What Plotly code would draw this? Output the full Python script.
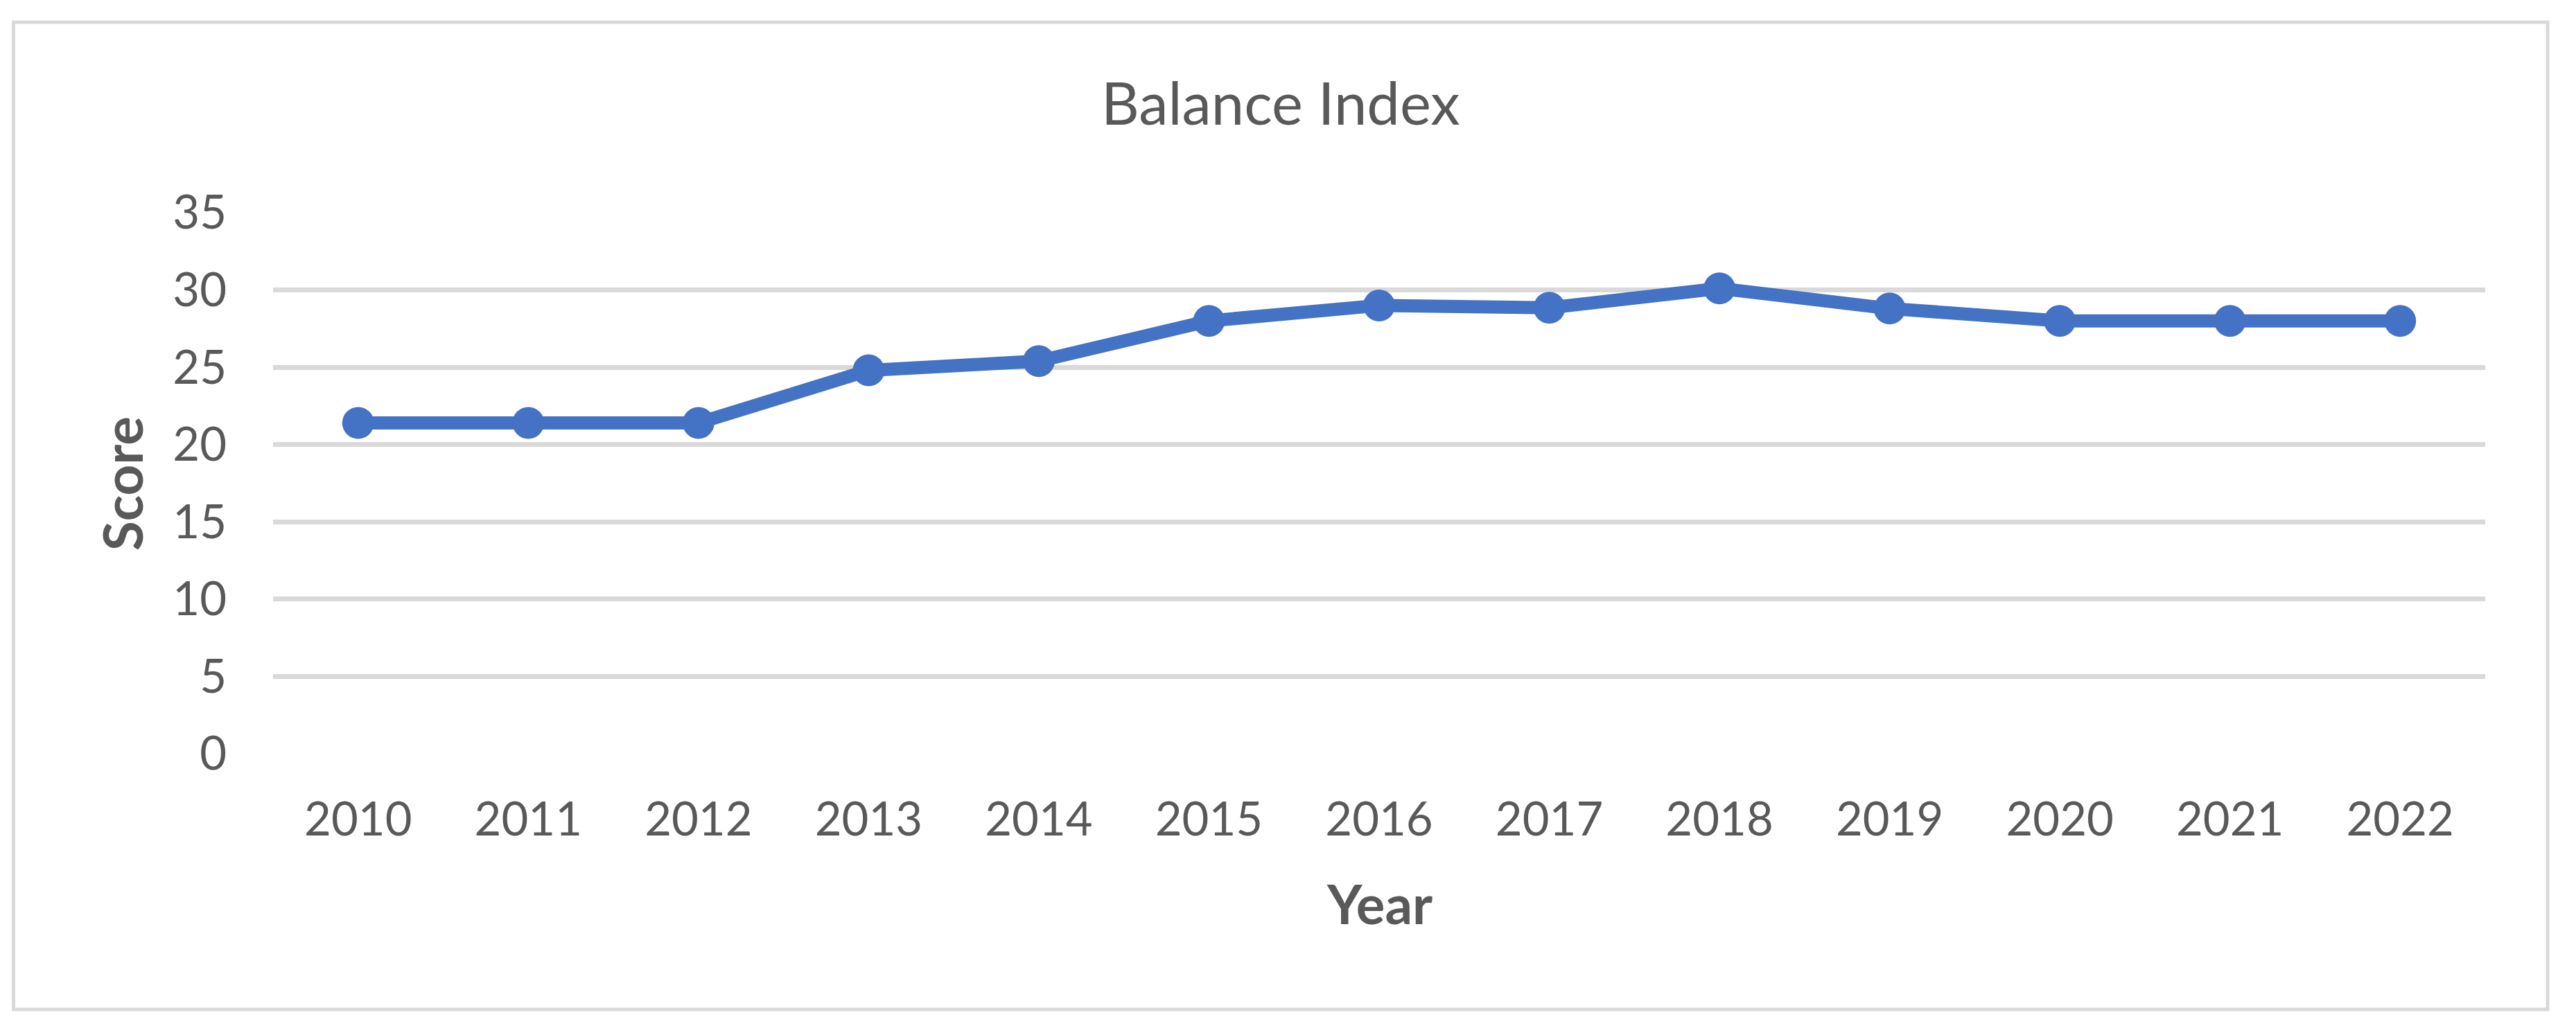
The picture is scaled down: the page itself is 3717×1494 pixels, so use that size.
import plotly.graph_objects as go

years = ["2010", "2011", "2012", "2013", "2014", "2015", "2016",
         "2017", "2018", "2019", "2020", "2021", "2022"]
scores = [21.4, 21.4, 21.4, 24.8, 25.4, 28.0, 29.0, 28.85, 30.1, 28.8, 28.0, 28.0, 28.0]
y_ticks = [0, 5, 10, 15, 20, 25, 30, 35]

title_text = "Balance Index"
x_title = "Year"
y_title = "Score"

W, H = 3717, 1494
L, R, T, B = 394, 3586, 307, 1088  # plot area in pixels

def px_x(p):
    return (p - L) / (R - L)

def px_y(p):
    return (B - p) / (B - T)

FONT = "Lato, 'Open Sans', sans-serif"
TXT = "#595959"
GRID = "#d9d9d9"
BLUE = "#4472C4"

fig = go.Figure()
fig.add_trace(go.Scatter(
    x=years, y=scores, mode="lines+markers",
    line=dict(color=BLUE, width=19),
    marker=dict(color=BLUE, size=46, line=dict(width=0)),
    showlegend=False,
))

fig.update_layout(
    width=W, height=H,
    margin=dict(l=L, r=W - R, t=T, b=H - B, pad=0),
    paper_bgcolor="white", plot_bgcolor="white",
    font=dict(family=FONT, color=TXT),
    showlegend=False,
    xaxis=dict(
        type="category", range=[-0.5, len(years) - 0.5],
        showgrid=False, zeroline=False, showline=False,
        ticks="", tickfont=dict(size=67, color=TXT, family=FONT),
        ticklabelstandoff=50,
    ),
    yaxis=dict(
        range=[0, 35], tickvals=y_ticks,
        showgrid=True, gridcolor=GRID, gridwidth=7,
        zeroline=False, showline=False,
        ticks="", tickfont=dict(size=67, color=TXT, family=FONT),
        ticklabelstandoff=66,
    ),
    shapes=[dict(
        type="rect", xref="paper", yref="paper",
        x0=px_x(19.5), x1=px_x(3676), y0=px_y(1457), y1=px_y(32),
        line=dict(color=GRID, width=5), fillcolor="rgba(0,0,0,0)", layer="below",
    )],
    annotations=[
        dict(text=title_text, xref="paper", yref="paper",
             x=px_x(1848), y=px_y(147), xanchor="center", yanchor="middle",
             showarrow=False, font=dict(size=85, color=TXT, family=FONT)),
        dict(text="<b>" + x_title + "</b>", xref="paper", yref="paper",
             x=px_x(1990), y=px_y(1304), xanchor="center", yanchor="middle",
             showarrow=False, font=dict(size=78, color=TXT, family=FONT)),
        dict(text="<b>" + y_title + "</b>", xref="paper", yref="paper",
             x=px_x(176), y=px_y(698), xanchor="center", yanchor="middle",
             textangle=-90,
             showarrow=False, font=dict(size=78, color=TXT, family=FONT)),
    ],
)

fig.write_html(
    "out.html",
    config={"displayModeBar": False},
    post_script="document.body.style.margin='0';document.body.style.overflow='hidden';",
)
